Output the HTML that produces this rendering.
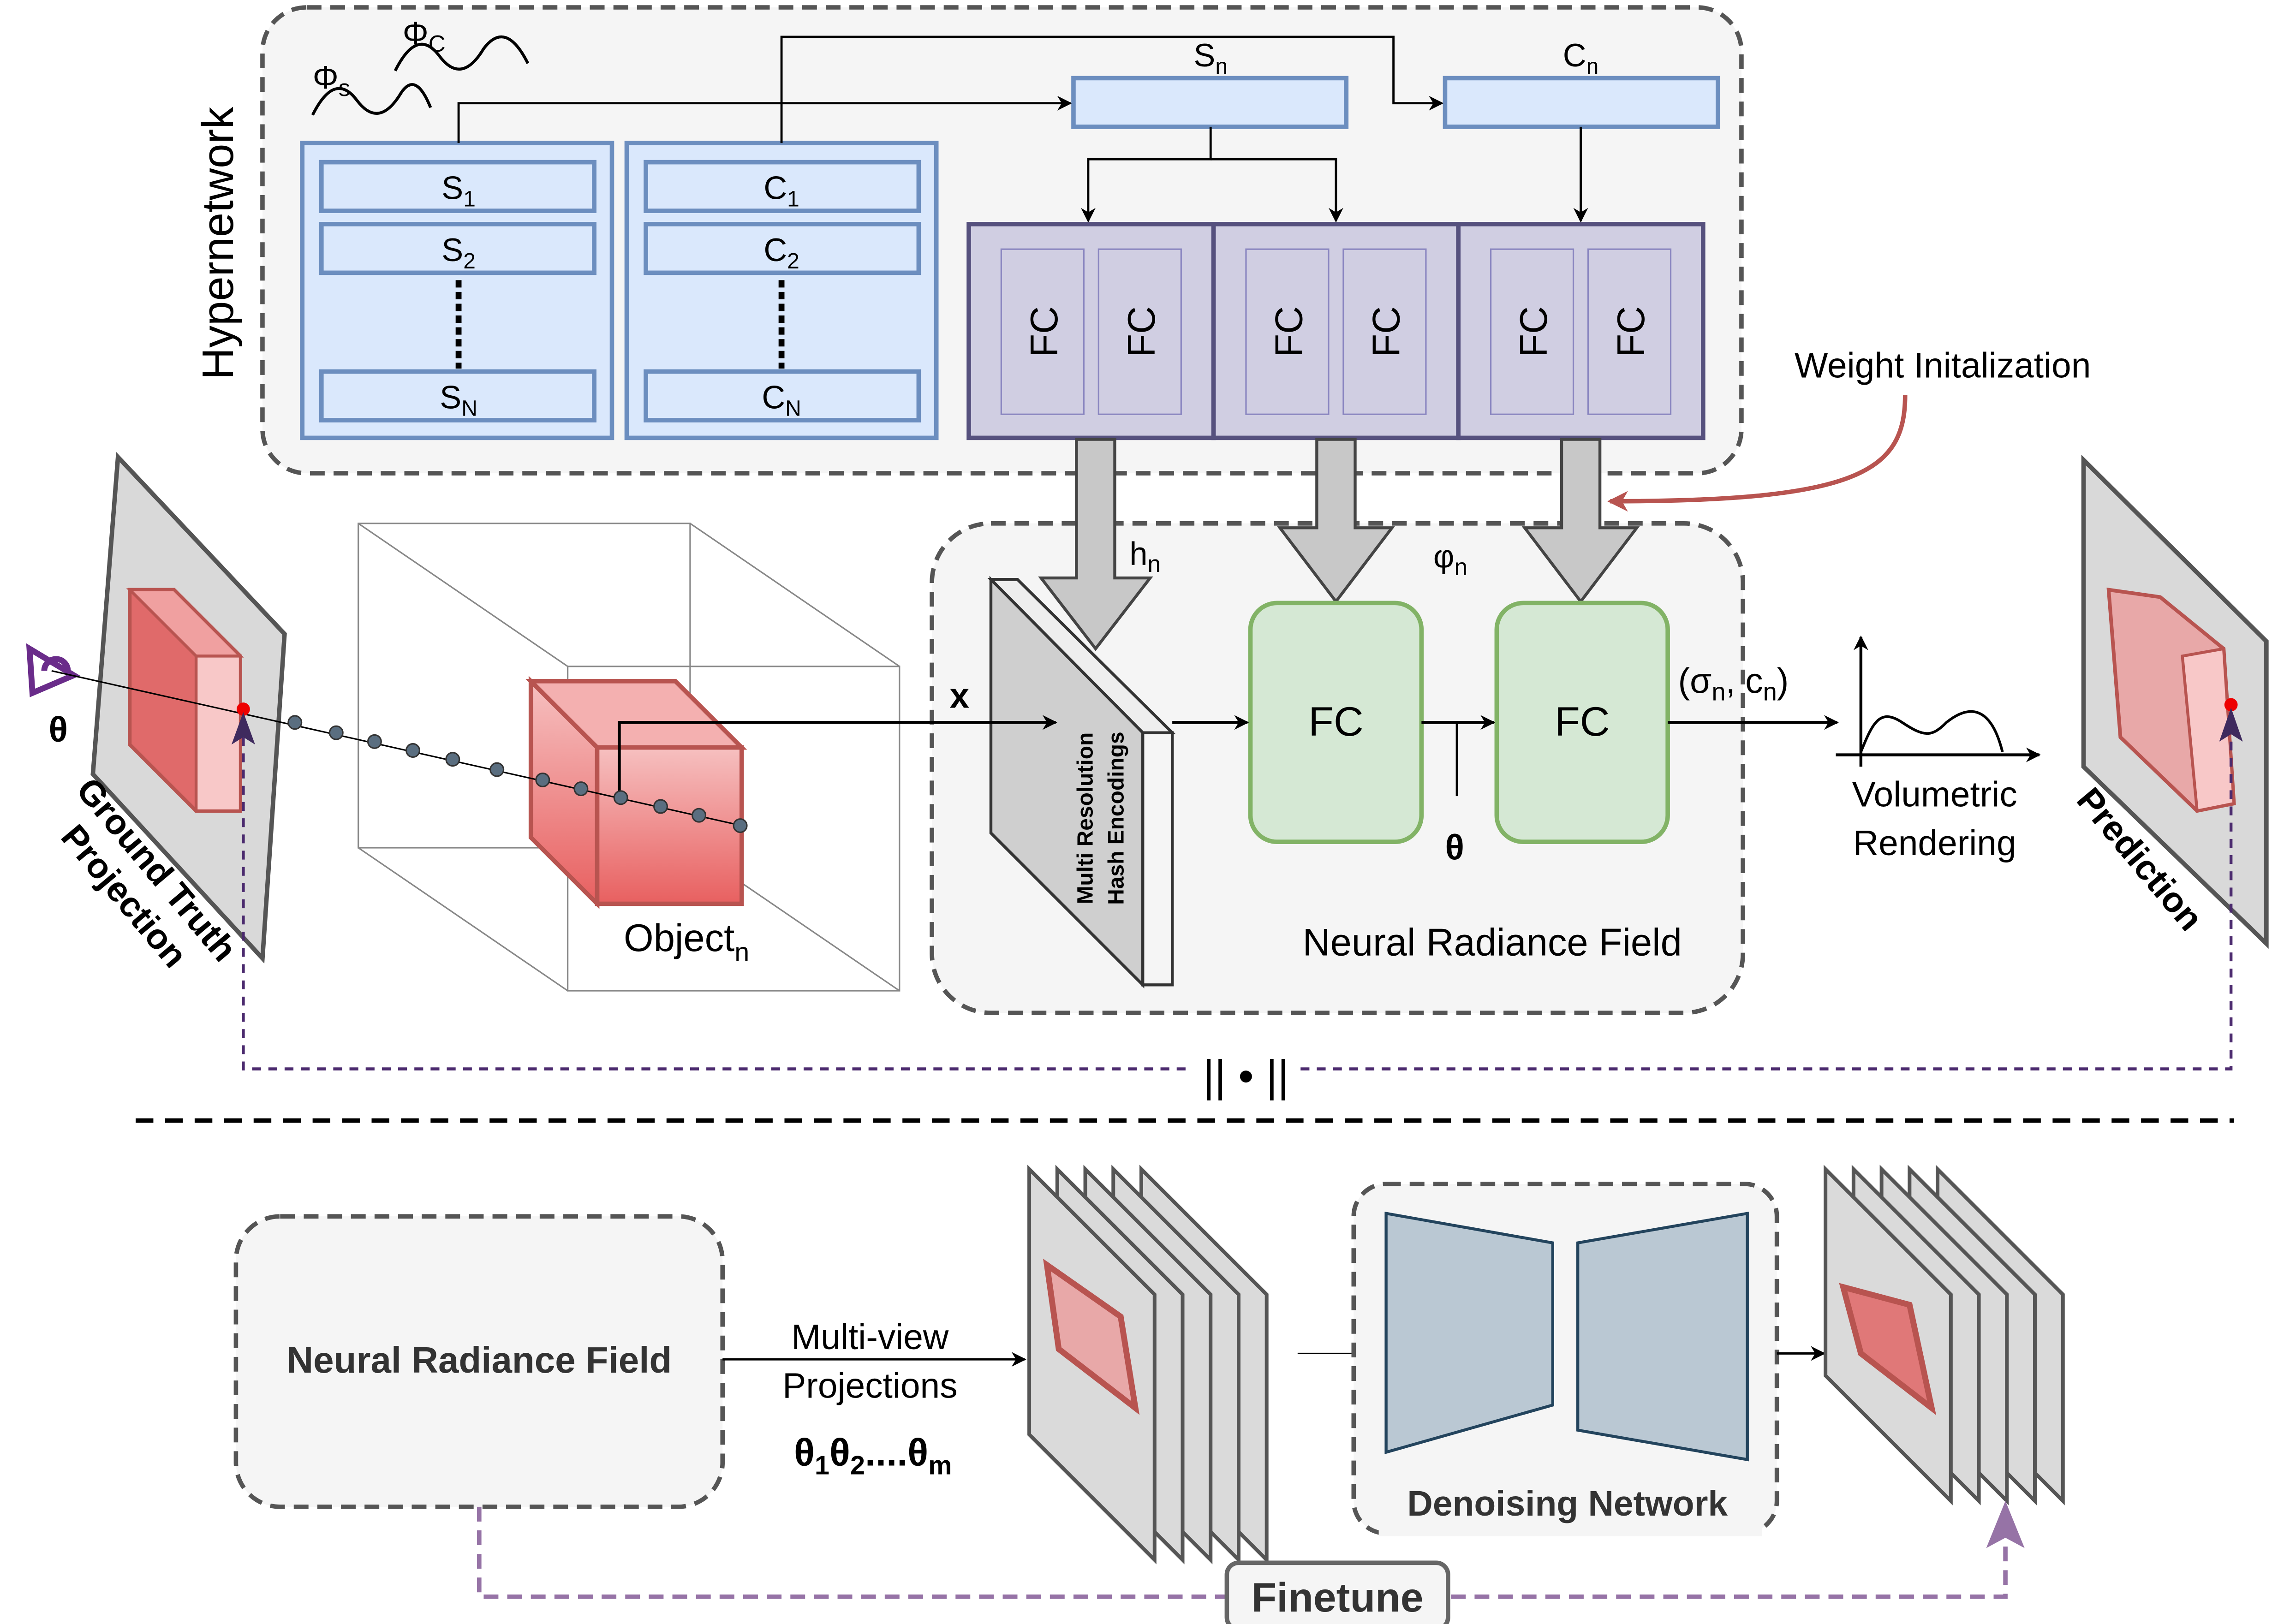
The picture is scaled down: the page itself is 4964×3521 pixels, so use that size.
<!DOCTYPE html>
<html><head><meta charset="utf-8"><style>html,body{margin:0;padding:0;background:#fff}svg{display:block}text{font-family:"Liberation Sans",sans-serif}</style></head>
<body>
<svg width="4964" height="3521" viewBox="0 0 1553 1101.5" preserveAspectRatio="none" xmlns="http://www.w3.org/2000/svg">
<defs>
<marker id="a" markerWidth="10" markerHeight="10" refX="9" refY="5" orient="auto" markerUnits="userSpaceOnUse"><path d="M0,0 L10,5 L0,10 L3,5Z" fill="#000"/></marker>
<marker id="r" markerWidth="14" markerHeight="14" refX="12" refY="7" orient="auto" markerUnits="userSpaceOnUse"><path d="M0,0 L14,7 L0,14 L4,7Z" fill="#b85450"/></marker>
<linearGradient id="rg" x1="0" y1="0" x2="0" y2="1"><stop offset="0" stop-color="#f6c0c0"/><stop offset="1" stop-color="#e86060"/></linearGradient>
</defs>
<rect x="178" y="5" width="1003" height="316" rx="30" fill="#f5f5f5" stroke="#555" stroke-width="3" stroke-dasharray="10,6"/>
<text x="158" y="165" font-size="30" transform="rotate(-90 158 165)" text-anchor="middle">Hypernetwork</text>
<path d="M212,78 q15,-30 30,-10 q15,20 30,-5 q10,-15 20,10" fill="none" stroke="#000" stroke-width="2"/>
<path d="M268,48 q15,-30 30,-10 q15,20 30,-5 q15,-20 30,10" fill="none" stroke="#000" stroke-width="2"/>
<text x="212" y="60" font-size="22">Φ<tspan font-size="16" dy="5">s</tspan></text>
<text x="273" y="30" font-size="22">Φ<tspan font-size="16" dy="5">C</tspan></text>
<g fill="#dae8fc" stroke="#6c8ebf" stroke-width="3">
<rect x="205" y="97" width="210" height="200"/><rect x="425" y="97" width="210" height="200"/>
<rect x="218" y="110" width="185" height="33"/><rect x="218" y="152" width="185" height="33"/><rect x="218" y="252" width="185" height="33"/>
<rect x="438" y="110" width="185" height="33"/><rect x="438" y="152" width="185" height="33"/><rect x="438" y="252" width="185" height="33"/>
<rect x="728" y="53" width="185" height="33"/><rect x="980" y="53" width="185" height="33"/>
</g>
<g font-size="22" text-anchor="middle">
<text x="311" y="135">S<tspan font-size="15" dy="5">1</tspan></text>
<text x="311" y="177">S<tspan font-size="15" dy="5">2</tspan></text>
<text x="311" y="277">S<tspan font-size="15" dy="5">N</tspan></text>
<text x="530" y="135">C<tspan font-size="15" dy="5">1</tspan></text>
<text x="530" y="177">C<tspan font-size="15" dy="5">2</tspan></text>
<text x="530" y="277">C<tspan font-size="15" dy="5">N</tspan></text>
<text x="821" y="45">S<tspan font-size="15" dy="5">n</tspan></text>
<text x="1072" y="45">C<tspan font-size="15" dy="5">n</tspan></text>
</g>
<line x1="311" y1="190" x2="311" y2="250" stroke="#000" stroke-width="4" stroke-dasharray="5,3"/>
<line x1="530" y1="190" x2="530" y2="250" stroke="#000" stroke-width="4" stroke-dasharray="5,3"/>
<g fill="none" stroke="#000" stroke-width="1.5">
<path d="M311,97 V70 H726" marker-end="url(#a)"/>
<path d="M530,97 V25 H945 V70 H978" marker-end="url(#a)"/>
<path d="M821,86 V108 H738 V150" marker-end="url(#a)"/>
<path d="M821,108 H906 V150" marker-end="url(#a)"/>
<path d="M1072,86 V150" marker-end="url(#a)"/>
</g>
<g stroke="#56517e" stroke-width="3" fill="#d0cee2">
<rect x="657" y="152" width="166" height="145"/><rect x="823" y="152" width="166" height="145"/><rect x="989" y="152" width="166" height="145"/>
</g>
<g stroke="#8a86c0" stroke-width="1" fill="#d0cee2">
<rect x="679" y="169" width="56" height="112"/><rect x="745" y="169" width="56" height="112"/>
<rect x="845" y="169" width="56" height="112"/><rect x="911" y="169" width="56" height="112"/>
<rect x="1011" y="169" width="56" height="112"/><rect x="1077" y="169" width="56" height="112"/>
</g>
<g font-size="26" text-anchor="middle">
<text transform="translate(717,225) rotate(-90)">FC</text><text transform="translate(783,225) rotate(-90)">FC</text>
<text transform="translate(883,225) rotate(-90)">FC</text><text transform="translate(949,225) rotate(-90)">FC</text>
<text transform="translate(1049,225) rotate(-90)">FC</text><text transform="translate(1115,225) rotate(-90)">FC</text>
</g>
<text x="1217" y="256" font-size="24">Weight Initalization</text>
<path d="M1292,268 C1292,320 1260,340 1092,340" fill="none" stroke="#b85450" stroke-width="3" marker-end="url(#r)"/>
<rect x="632" y="355" width="550" height="332" rx="40" fill="#f5f5f5" stroke="#555" stroke-width="3" stroke-dasharray="10,6"/>
<polygon points="672,393 690,393 795,497 775,497" fill="#eee" stroke="#333" stroke-width="2"/>
<polygon points="672,393 775,497 775,668 672,565" fill="#cfcfcf" stroke="#333" stroke-width="2"/>
<polygon points="775,497 795,497 795,668 775,668" fill="#f5f5f5" stroke="#333" stroke-width="2"/>
<g font-size="15" font-weight="bold" text-anchor="middle">
<text transform="translate(741,555) rotate(-90)">Multi Resolution</text>
<text transform="translate(762,555) rotate(-90)">Hash Encodings</text>
</g>
<g fill="#c8c8c8" stroke="#444" stroke-width="2">
<polygon points="730,298 756,298 756,392 780,392 743,440 706,392 730,392"/>
<polygon points="893,298 919,298 919,358 944,358 906,408 868,358 893,358"/>
<polygon points="1059,298 1085,298 1085,358 1110,358 1072,408 1034,358 1059,358"/>
</g>
<text x="766" y="383" font-size="22">h<tspan font-size="16" dy="5">n</tspan></text>
<text x="972" y="385" font-size="22">φ<tspan font-size="16" dy="5">n</tspan></text>
<rect x="848" y="409" width="116" height="162" rx="18" fill="#d5e8d4" stroke="#82b366" stroke-width="3"/>
<rect x="1015" y="409" width="116" height="162" rx="18" fill="#d5e8d4" stroke="#82b366" stroke-width="3"/>
<text x="906" y="499" font-size="28" text-anchor="middle">FC</text>
<text x="1073" y="499" font-size="28" text-anchor="middle">FC</text>
<text x="644" y="480" font-size="24" font-weight="bold">x</text>
<g fill="none" stroke="#000" stroke-width="2">
<path d="M795,490 H846" marker-end="url(#a)"/>
<path d="M964,490 H1013" marker-end="url(#a)"/>
<path d="M988,490 V540" stroke-width="1.5"/>
<path d="M1131,490 H1246" marker-end="url(#a)"/>
</g>
<text x="980" y="583" font-size="24" font-weight="bold">θ</text>
<text x="1138" y="470" font-size="24">(σ<tspan font-size="17" dy="5">n</tspan><tspan dy="-5">, c</tspan><tspan font-size="17" dy="5">n</tspan><tspan dy="-5">)</tspan></text>
<text x="1012" y="648" font-size="26" text-anchor="middle">Neural Radiance Field</text>
<g fill="none" stroke="#000" stroke-width="2">
<path d="M1262,520 V432" marker-end="url(#a)"/>
<path d="M1245,512 H1383" marker-end="url(#a)"/>
<path d="M1262,510 C1270,490 1275,480 1290,490 C1305,500 1310,500 1320,490 C1335,478 1350,478 1358,510" stroke-width="1.8"/>
</g>
<text x="1312" y="547" font-size="24" text-anchor="middle">Volumetric</text>
<text x="1312" y="580" font-size="24" text-anchor="middle">Rendering</text>
<polygon points="80,310 193,430 178,650 63,525" fill="#d9d9d9" stroke="#555" stroke-width="3"/>
<polygon points="88,400 118,400 163,445 163,550 133,550 88,505" fill="#e06a6a" stroke="#b85450" stroke-width="2.5"/>
<polygon points="88,400 118,400 163,445 133,445" fill="#f0a0a0" stroke="#b85450" stroke-width="2"/>
<polygon points="133,445 163,445 163,550 133,550" fill="#f8c8c8" stroke="#b85450" stroke-width="2"/>
<text transform="translate(100,595) rotate(50)" font-size="24" font-weight="bold" text-anchor="middle">Ground Truth</text>
<text transform="translate(78,613) rotate(50)" font-size="24" font-weight="bold" text-anchor="middle">Projection</text>
<path d="M20,440 L50,458 L22,470 Z M30,455 a8,8 0 0 1 16,0" fill="none" stroke="#6a2c8a" stroke-width="4"/>
<text x="33" y="503" font-size="24" font-weight="bold">θ</text>
<g fill="none" stroke="#888" stroke-width="1">
<rect x="243" y="355" width="225" height="220"/><rect x="385" y="452" width="225" height="220"/>
<line x1="243" y1="355" x2="385" y2="452"/><line x1="468" y1="355" x2="610" y2="452"/>
<line x1="243" y1="575" x2="385" y2="672"/><line x1="468" y1="575" x2="610" y2="672"/>
</g>
<polygon points="360,462 458,462 503,507 405,507" fill="#f4b0b0" stroke="#b85450" stroke-width="3"/>
<polygon points="360,462 405,507 405,613 360,568" fill="url(#rg)" stroke="#b85450" stroke-width="3"/>
<rect x="405" y="507" width="98" height="106" fill="url(#rg)" stroke="#b85450" stroke-width="3"/>
<path d="M420,540 V490 H716" fill="none" stroke="#000" stroke-width="2" marker-end="url(#a)"/>
<line x1="35" y1="455" x2="503" y2="560" stroke="#000" stroke-width="1"/>
<g fill="#5a6e80" stroke="#333" stroke-width="1">
<circle cx="200" cy="490" r="4.5"/><circle cx="228" cy="497" r="4.5"/><circle cx="254" cy="503" r="4.5"/><circle cx="280" cy="509" r="4.5"/><circle cx="307" cy="515" r="4.5"/><circle cx="337" cy="522" r="4.5"/><circle cx="368" cy="529" r="4.5"/><circle cx="394" cy="535" r="4.5"/><circle cx="421" cy="541" r="4.5"/><circle cx="448" cy="547" r="4.5"/><circle cx="474" cy="553" r="4.5"/><circle cx="502" cy="560" r="4.5"/>
</g>
<circle cx="165" cy="481" r="4.5" fill="#e00"/>
<text x="423" y="645" font-size="26">Object<tspan font-size="18" dy="7">n</tspan></text>
<polygon points="1413,312 1537,435 1537,640 1413,520" fill="#d9d9d9" stroke="#555" stroke-width="3"/>
<polygon points="1430,400 1465,405 1508,440 1515,545 1490,550 1438,500" fill="#e8a8a8" stroke="#b85450" stroke-width="2.5"/>
<polygon points="1480,445 1508,440 1515,545 1490,550" fill="#f8c8c8" stroke="#b85450" stroke-width="2"/>
<circle cx="1513" cy="478" r="4.5" fill="#e00"/>
<text transform="translate(1445,588) rotate(50)" font-size="24" font-weight="bold" text-anchor="middle">Prediction</text>
<g fill="none" stroke="#4b2a6e" stroke-width="2" stroke-dasharray="6,5">
<path d="M165,500 V725 H808"/><path d="M882,725 H1513 V500"/>
</g>
<polygon points="165,483 157,505 165,500 173,505" fill="#3f2a5e"/>
<polygon points="1513,480 1505,503 1513,498 1521,503" fill="#3f2a5e"/>
<text x="845" y="740" font-size="30" text-anchor="middle">|| • ||</text>
<line x1="92" y1="760" x2="1515" y2="760" stroke="#000" stroke-width="3" stroke-dasharray="12,8"/>
<rect x="160" y="825" width="330" height="197" rx="30" fill="#f5f5f5" stroke="#555" stroke-width="3" stroke-dasharray="10,6"/>
<text x="325" y="931" font-size="25" font-weight="bold" fill="#333" text-anchor="middle">Neural Radiance Field</text>
<line x1="490" y1="922" x2="695" y2="922" stroke="#000" stroke-width="1.5" marker-end="url(#a)"/>
<text x="590" y="915" font-size="24" text-anchor="middle">Multi-view</text>
<text x="590" y="948" font-size="24" text-anchor="middle">Projections</text>
<text x="592" y="994" font-size="26" font-weight="bold" text-anchor="middle">θ<tspan font-size="18" dy="6">1</tspan><tspan dy="-6">θ</tspan><tspan font-size="18" dy="6">2</tspan><tspan dy="-6">....θ</tspan><tspan font-size="18" dy="6">m</tspan></text>
<g fill="#dadada" stroke="#555" stroke-width="2.5">
<polygon points="774,793 859,878 859,1058 774,973"/>
<polygon points="755,793 840,878 840,1058 755,973"/>
<polygon points="736,793 821,878 821,1058 736,973"/>
<polygon points="717,793 802,878 802,1058 717,973"/>
<polygon points="698,793 783,878 783,1058 698,973"/>
</g>
<polygon points="710,858 760,893 770,955 718,915" fill="#e8a8a8" stroke="#b85450" stroke-width="4"/>
<line x1="880" y1="918" x2="920" y2="918" stroke="#000" stroke-width="1"/>
<rect x="918" y="803" width="287" height="237" rx="22" fill="#f5f5f5" stroke="#555" stroke-width="3" stroke-dasharray="10,6"/>
<polygon points="940,823 1053,843 1053,953 940,985" fill="#bac8d3" stroke="#23445d" stroke-width="2"/>
<polygon points="1070,843 1185,823 1185,990 1070,970" fill="#bac8d3" stroke="#23445d" stroke-width="2"/>
<rect x="935" y="1002" width="260" height="40" fill="#f5f5f5"/>
<text x="1063" y="1028" font-size="24" font-weight="bold" fill="#333" text-anchor="middle">Denoising Network</text>
<line x1="1205" y1="918" x2="1237" y2="918" stroke="#000" stroke-width="1.5" marker-end="url(#a)"/>
<g fill="#dadada" stroke="#555" stroke-width="2.5">
<polygon points="1314,793 1399,878 1399,1018 1314,933"/>
<polygon points="1295,793 1380,878 1380,1018 1295,933"/>
<polygon points="1276,793 1361,878 1361,1018 1276,933"/>
<polygon points="1257,793 1342,878 1342,1018 1257,933"/>
<polygon points="1238,793 1323,878 1323,1018 1238,933"/>
</g>
<polygon points="1250,873 1295,885 1310,955 1262,918" fill="#e07878" stroke="#b85450" stroke-width="4"/>
<path d="M325,1022 V1083 H1360 V1045" fill="none" stroke="#9673a6" stroke-width="3" stroke-dasharray="10,6"/>
<polygon points="1360,1018 1347,1050 1360,1043 1373,1050" fill="#9673a6"/>
<rect x="832" y="1060" width="150" height="45" rx="8" fill="#f5f5f5" stroke="#666" stroke-width="3"/>
<text x="907" y="1093" font-size="28" font-weight="bold" fill="#333" text-anchor="middle">Finetune</text>
</svg>
</body></html>
